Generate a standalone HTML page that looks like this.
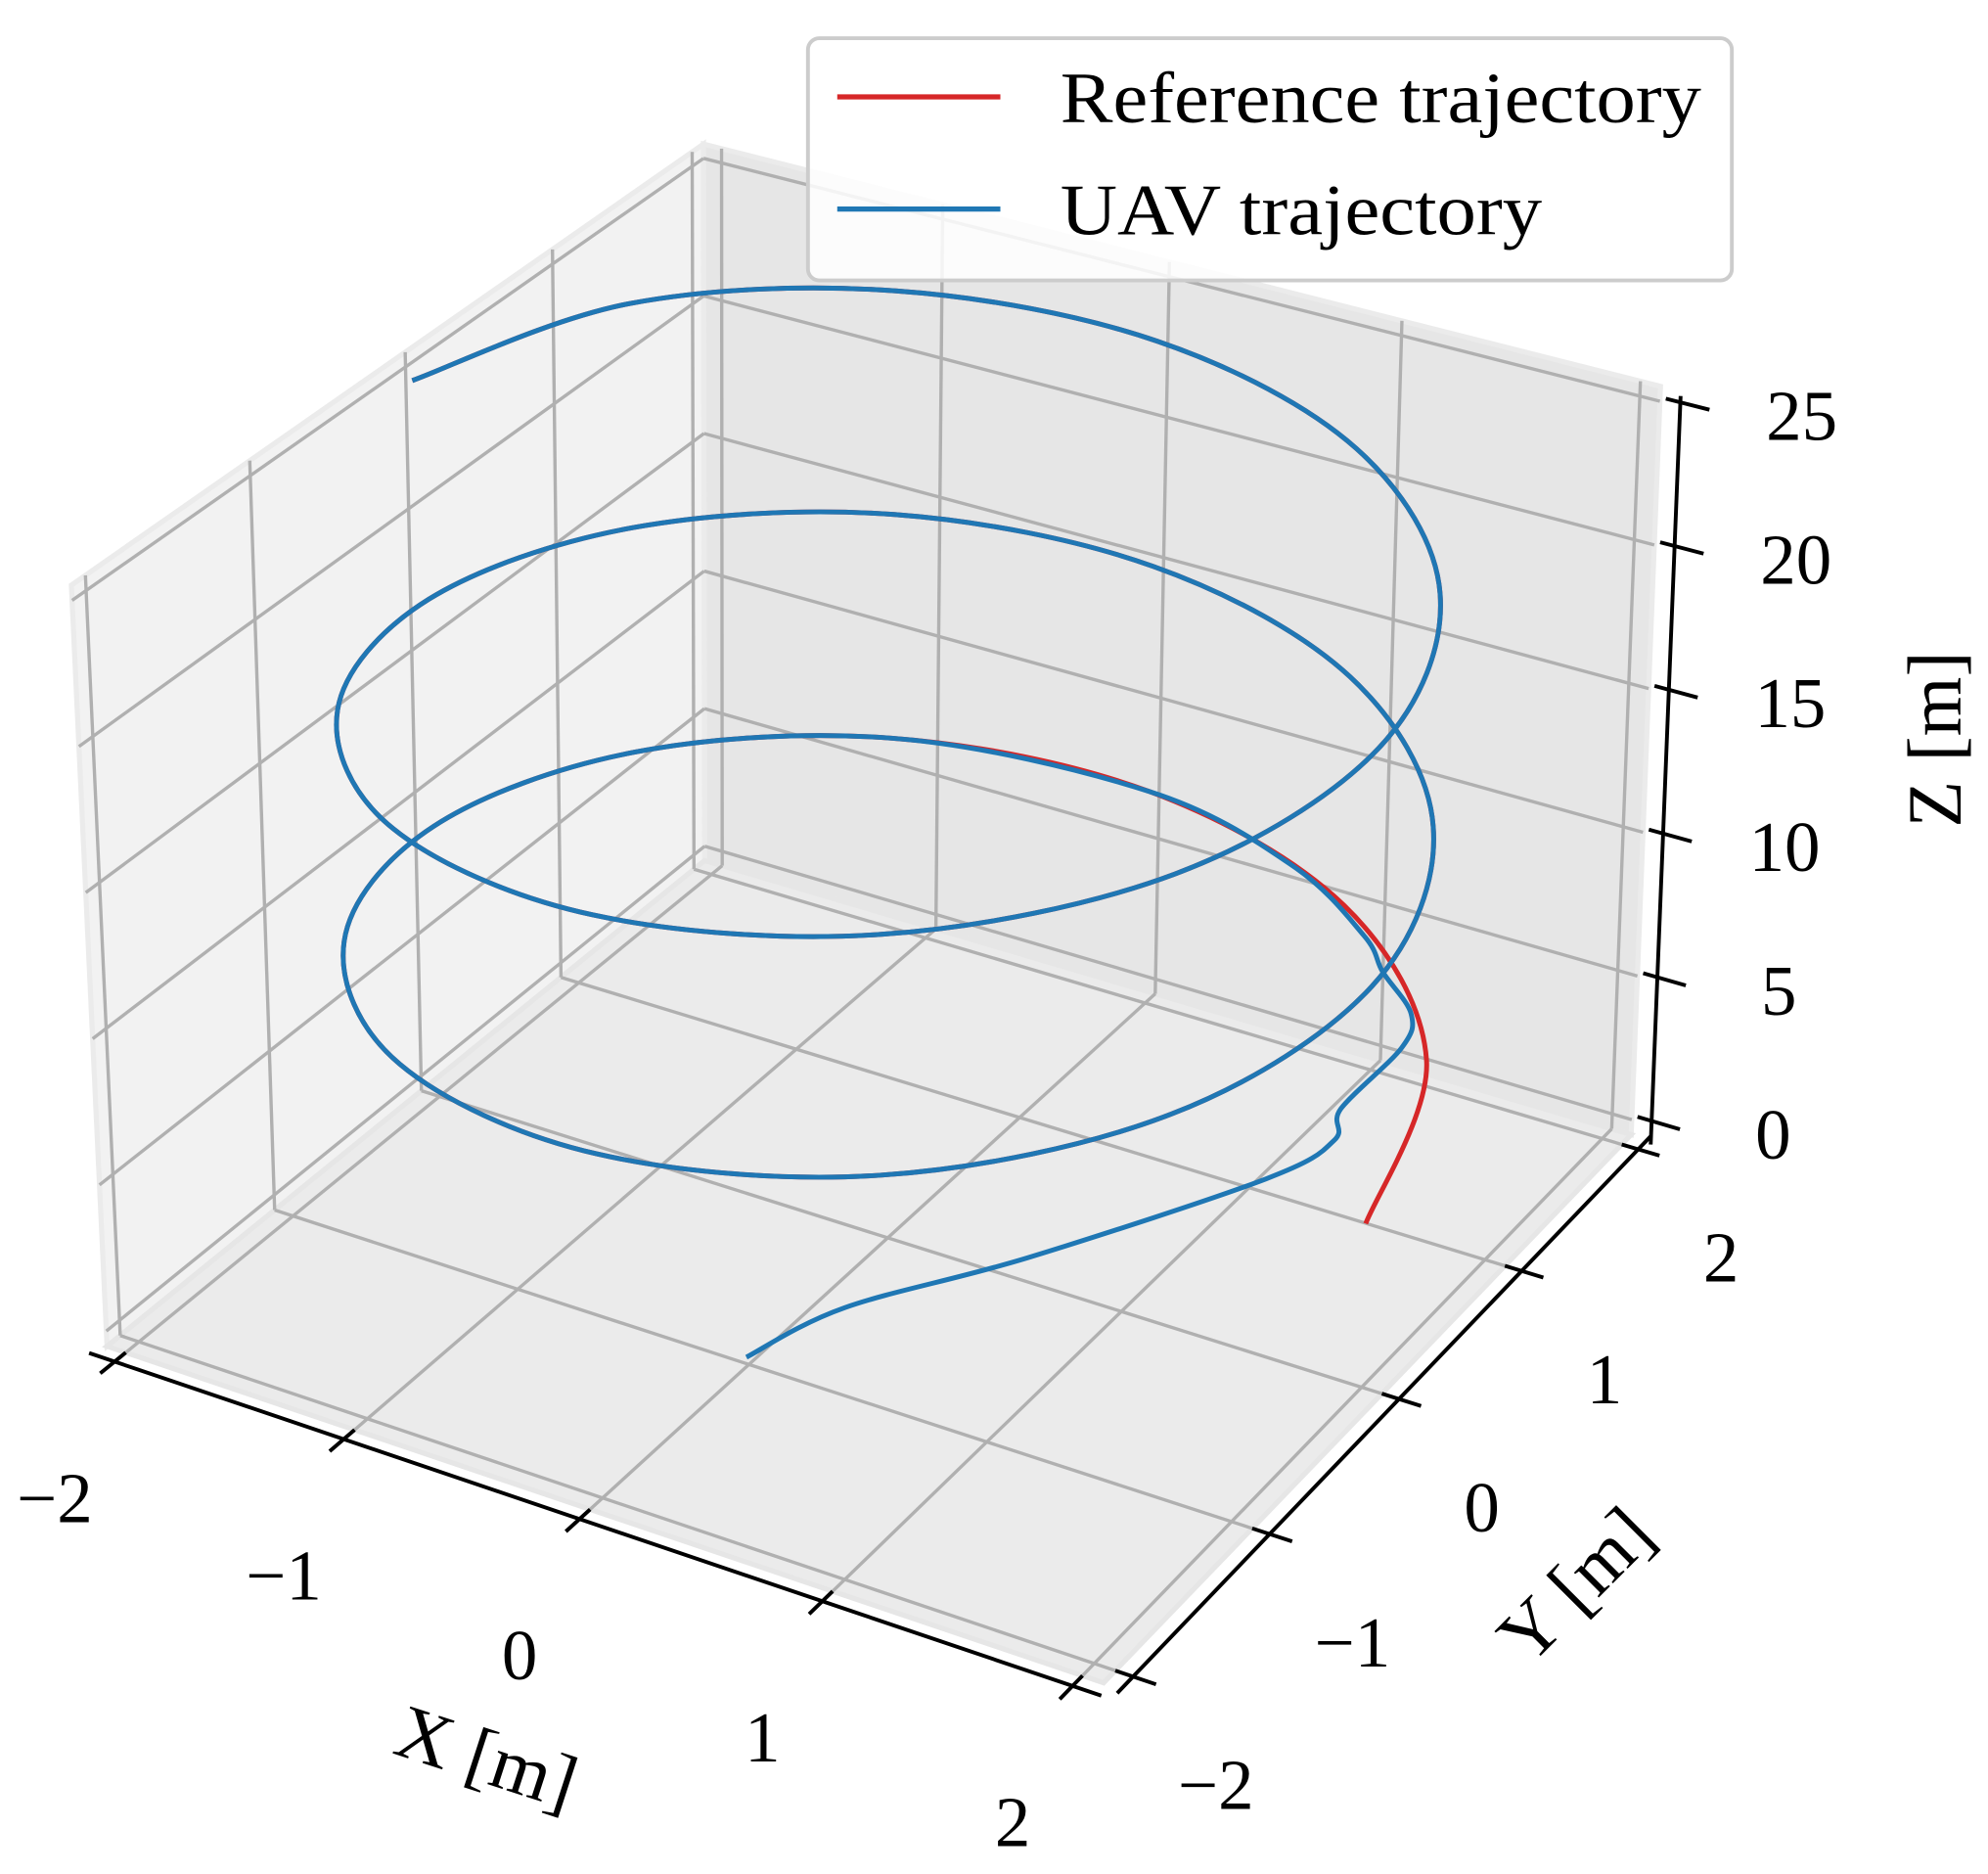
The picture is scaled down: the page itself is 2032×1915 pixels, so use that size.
<!DOCTYPE html>
<html><head><meta charset="utf-8"><style>
html,body{margin:0;padding:0;background:#fff;}
svg{display:block;}
text{font-family:"Liberation Serif","Times New Roman",serif;fill:#000;}
</style></head>
<body>
<svg id="chart" width="2032" height="1915" viewBox="0 0 1560 1470" preserveAspectRatio="none" xmlns="http://www.w3.org/2000/svg">
<g id="panes"></g>
<g id="grid"></g>
<g id="axes"></g>
<g id="series"></g>
<g id="legend">
  <rect x="634" y="30" width="725" height="190" rx="9" fill="#fff" fill-opacity="0.85" stroke="#cccccc" stroke-width="3"/>
  <line x1="657" y1="76" x2="785" y2="76" stroke="#d62728" stroke-width="4"/>
  <text x="832" y="96" font-size="57" textLength="503" lengthAdjust="spacingAndGlyphs">Reference trajectory</text>
  <line x1="657" y1="164" x2="785" y2="164" stroke="#1f77b4" stroke-width="4"/>
  <text x="832" y="184" font-size="57" textLength="378" lengthAdjust="spacingAndGlyphs">UAV trajectory</text>
</g>
</svg>
<script>
// ---- data ----
const xTicks = [-2, -1, 0, 1, 2];
const yTicks = [-2, -1, 0, 1, 2];
const zTicks = [0, 5, 10, 15, 20, 25];
const xTickLabels = ["\u22122", "\u22121", "0", "1", "2"];
const yTickLabels = ["\u22122", "\u22121", "0", "1", "2"];
const zTickLabels = ["0", "5", "10", "15", "20", "25"];
const refX = [2,1.732,1,0,-1,-1.732,-2,-1.732,-1,0,1,1.732,2,1.732,1,0,-1,-1.732,-2,-1.732,-1,0,1,1.732,2,1.732,1,0,-1,-1.732,-2];
const refY = [0,1,1.732,2,1.732,1,0,-1,-1.732,-2,-1.732,-1,0,1,1.732,2,1.732,1,0,-1,-1.732,-2,-1.732,-1,0,1,1.732,2,1.732,1,-0.08];
const refZ = [5,5.67,6.33,7,7.67,8.33,9,9.67,10.33,11,11.67,12.33,13,13.67,14.33,15,15.67,16.33,17,17.67,18.33,19,19.67,20.33,21,21.67,22.33,23,23.67,24.33,25];
const uavX = [0.02,0.17,0.6,1.17,1.31,1.33,1.39,1.40,1.25,1.12,0.7,0,-1,-1.732,-2,-1.732,-1,0,1,1.732,2,1.732,1,0,-1,-1.732,-2,-1.732,-1,0,1,1.732,2,1.732,1,0,-1,-1.732,-2];
const uavY = [-1.05,-0.6,0,0.81,1.09,1.1,1.48,1.53,1.58,1.67,1.87,2,1.732,1,0,-1,-1.732,-2,-1.732,-1,0,1,1.732,2,1.732,1,0,-1,-1.732,-2,-1.732,-1,0,1,1.732,2,1.732,1,-0.08];
const uavZ = [0,0.1,0.3,1,1.5,2.6,3.3,4.3,5.2,5.8,6.5,7,7.67,8.33,9,9.67,10.33,11,11.67,12.33,13,13.67,14.33,15,15.67,16.33,17,17.67,18.33,19,19.67,20.33,21,21.67,22.33,23,23.67,24.33,25];

// ---- projection (box corners in view coords) ----
const XMIN=-2.083, XMAX=2.083, YMIN=-2.083, YMAX=2.083, ZMIN=-0.52, ZMAX=25.52;
const FLb=[84,1056], FRb=[866,1320], BRb=[1280,890], BLb=[553,675];
const FLt=[56,459], FRt=[872,694], BRt=[1303,303], BLt=[552,113];
function lerp(a,b,t){return [a[0]+(b[0]-a[0])*t, a[1]+(b[1]-a[1])*t];}
function proj(x,y,z){
  const u=(x-XMIN)/(XMAX-XMIN), v=(y-YMIN)/(YMAX-YMIN), w=(z-ZMIN)/(ZMAX-ZMIN);
  const p0=lerp(FLb,FLt,w), p1=lerp(FRb,FRt,w), p2=lerp(BRb,BRt,w), p3=lerp(BLb,BLt,w);
  const dx1=p1[0]-p2[0], dx2=p3[0]-p2[0], dx3=p0[0]-p1[0]+p2[0]-p3[0];
  const dy1=p1[1]-p2[1], dy2=p3[1]-p2[1], dy3=p0[1]-p1[1]+p2[1]-p3[1];
  const den=dx1*dy2-dx2*dy1;
  const g=(dx3*dy2-dx2*dy3)/den, h=(dx1*dy3-dx3*dy1)/den;
  const a=p1[0]-p0[0]+g*p1[0], b=p3[0]-p0[0]+h*p3[0], c=p0[0];
  const d=p1[1]-p0[1]+g*p1[1], e=p3[1]-p0[1]+h*p3[1], f=p0[1];
  const q=g*u+h*v+1;
  return [(a*u+b*v+c)/q, (d*u+e*v+f)/q];
}
const NS="http://www.w3.org/2000/svg";
function mk(tag, parent, attrs){const el=document.createElementNS(NS,tag); for(const k in attrs) el.setAttribute(k,attrs[k]); parent.appendChild(el); return el;}
function poly(pts){return pts.map(p=>p[0].toFixed(1)+","+p[1].toFixed(1)).join(" ");}

// panes
const panes=document.getElementById('panes');
let el;
el=mk('polygon',panes,{points:poly([proj(XMIN,YMIN,ZMIN),proj(XMIN,YMAX,ZMIN),proj(XMIN,YMAX,ZMAX),proj(XMIN,YMIN,ZMAX)]),fill:'#f2f2f2',stroke:'#ebebeb','stroke-width':4});


el=mk('polygon',panes,{points:poly([proj(XMIN,YMAX,ZMIN),proj(XMAX,YMAX,ZMIN),proj(XMAX,YMAX,ZMAX),proj(XMIN,YMAX,ZMAX)]),fill:'#e6e6e6',stroke:'#ebebeb','stroke-width':4});


el=mk('polygon',panes,{points:poly([proj(XMIN,YMIN,ZMIN),proj(XMAX,YMIN,ZMIN),proj(XMAX,YMAX,ZMIN),proj(XMIN,YMAX,ZMIN)]),fill:'#ebebeb',stroke:'#e6e6e6','stroke-width':4});



// grid
const grid=document.getElementById('grid');
function gl(p,q,name){const e=mk('line',grid,{x1:p[0],y1:p[1],x2:q[0],y2:q[1],stroke:'#b0b0b0','stroke-width':2.6});
  
  }
xTicks.forEach(x=>{gl(proj(x,YMIN,ZMIN),proj(x,YMAX,ZMIN),'floor-gridline-x'); gl(proj(x,YMAX,ZMIN),proj(x,YMAX,ZMAX),'back-gridline-x');});
yTicks.forEach(y=>{gl(proj(XMIN,y,ZMIN),proj(XMAX,y,ZMIN),'floor-gridline-y'); gl(proj(XMIN,y,ZMIN),proj(XMIN,y,ZMAX),'left-gridline-y');});
zTicks.forEach(z=>{gl(proj(XMIN,YMIN,z),proj(XMIN,YMAX,z),'left-gridline-z'); gl(proj(XMIN,YMAX,z),proj(XMAX,YMAX,z),'back-gridline-z');});

// axes
const axes=document.getElementById('axes');
function al(p,q,name,w){const e=mk('line',axes,{x1:p[0],y1:p[1],x2:q[0],y2:q[1],stroke:'#000','stroke-width':w||3});
  
   return e;}
function tx(s,p,name,fs,rot){const e=mk('text',axes,{x:p[0],y:p[1],'font-size':fs||56,'text-anchor':'middle','dominant-baseline':'central'});
  if(rot) e.setAttribute('transform','rotate('+rot+' '+p[0]+' '+p[1]+')');
  e.textContent=s;
  
  }
const YA=YMIN-0.07;
al(proj(XMIN-0.03,YA,ZMIN),proj(XMAX+0.03,YA,ZMIN),'x-axis-line');
xTicks.forEach((x,i)=>{al(proj(x,YA-0.09,ZMIN),proj(x,YA+0.07,ZMIN),'x-tick');
  const p=proj(x,YA,ZMIN); tx(xTickLabels[i],[p[0]-47,p[1]+107],'x-tick-label');});
const XA=XMAX+0.07;
al(proj(XA,YMIN-0.03,ZMIN),proj(XA,YMAX+0.03,ZMIN),'y-axis-line');
yTicks.forEach((y,i)=>{al(proj(XA-0.07,y,ZMIN),proj(XA+0.09,y,ZMIN),'y-tick');
  const p=proj(XA,y,ZMIN); tx(yTickLabels[i],[p[0]+65,p[1]+85],'y-tick-label');});
al(proj(XA,YMAX+0.03,ZMIN-0.3),proj(XA,YMAX+0.03,ZMAX-0.3),'z-axis-line');
zTicks.forEach((z,i)=>{al(proj(XA-0.06,YMAX+0.03,z),proj(XA+0.12,YMAX+0.03,z),'z-tick');
  const p=proj(XA,YMAX,z); tx(zTickLabels[i],[p[0]+98,p[1]+8],'z-tick-label');});
tx('X [m]',[382,1378],'x-axis-title',60,18);
tx('Y [m]',[1236,1243],'y-axis-title',60,-45);
tx('Z [m]',[1518,580],'z-axis-title',60,-90);

// series
const series=document.getElementById('series');
function smooth(pts){
  let d='M'+pts[0][0].toFixed(1)+','+pts[0][1].toFixed(1);
  for(let i=0;i<pts.length-1;i++){
    const p0=pts[Math.max(i-1,0)],p1=pts[i],p2=pts[i+1],p3=pts[Math.min(i+2,pts.length-1)];
    const c1=[p1[0]+(p2[0]-p0[0])/6,p1[1]+(p2[1]-p0[1])/6], c2=[p2[0]-(p3[0]-p1[0])/6,p2[1]-(p3[1]-p1[1])/6];
    d+=' C'+c1[0].toFixed(1)+','+c1[1].toFixed(1)+' '+c2[0].toFixed(1)+','+c2[1].toFixed(1)+' '+p2[0].toFixed(1)+','+p2[1].toFixed(1);
  }
  return d;
}
const refPts=refX.map((x,i)=>proj(x,refY[i],refZ[i]));
el=mk('path',series,{d:smooth(refPts),fill:'none',stroke:'#d62728','stroke-width':3.8,'stroke-linejoin':'round'});


const uavPts=uavX.map((x,i)=>proj(x,uavY[i],uavZ[i]));
el=mk('path',series,{d:smooth(uavPts),fill:'none',stroke:'#1f77b4','stroke-width':3.8,'stroke-linejoin':'round'});


</script>
</body></html>
